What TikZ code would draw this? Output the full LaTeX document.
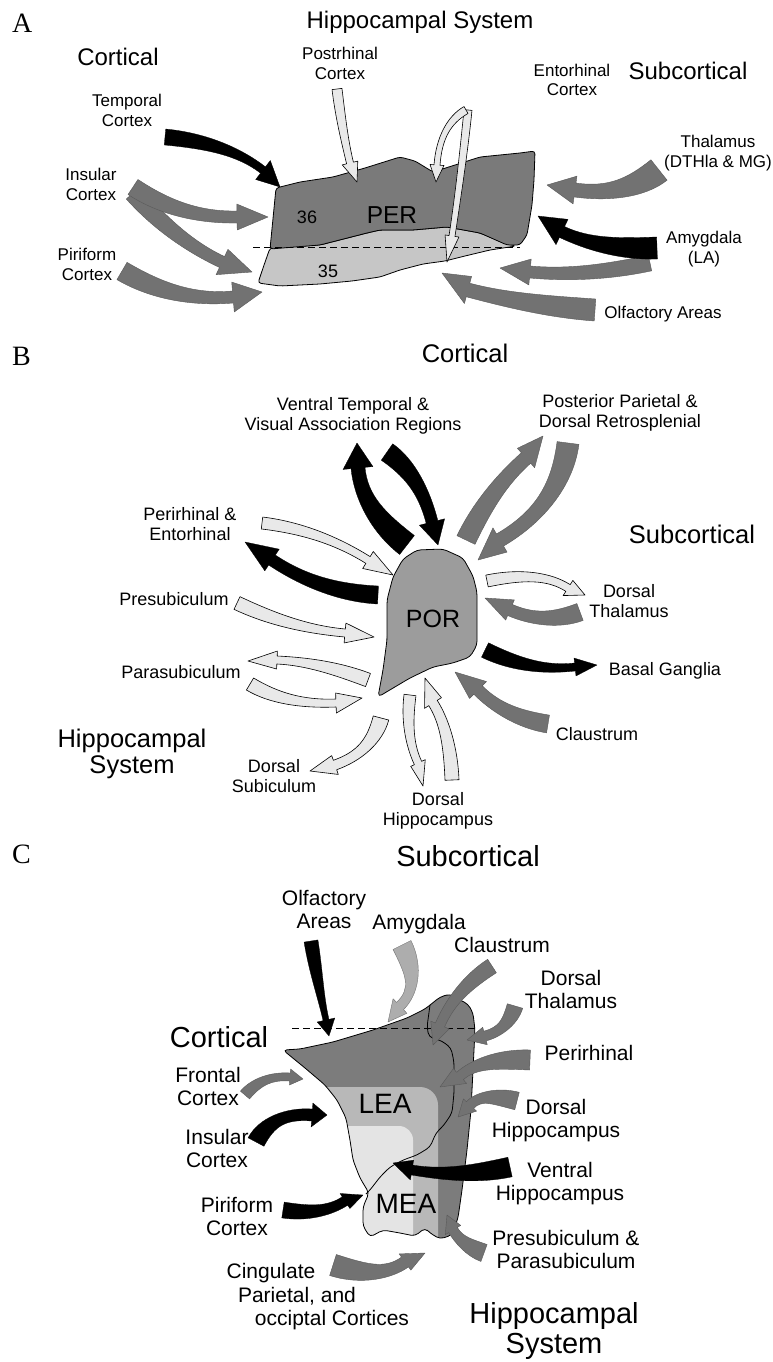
\documentclass[tikz,border=0pt]{standalone}
\usepackage{fontspec}
\setmainfont{Liberation Sans}
\newfontfamily\panelfont{Liberation Serif}
\usetikzlibrary{calc}
\definecolor{arrgray}{HTML}{727272}
\definecolor{lgtfill}{HTML}{E9E9E9}
\definecolor{perfill}{HTML}{7A7A7A}
\definecolor{areafill}{HTML}{C6C6C6}
\definecolor{porfill}{HTML}{9C9C9C}
\definecolor{leadark}{HTML}{7C7C7C}
\definecolor{leamid}{HTML}{B8B8B8}
\definecolor{lealight}{HTML}{E4E4E4}
\definecolor{amyfill}{HTML}{ADADAD}
% tapered curved block arrow: #1 style, #2 tail, #3 control, #4 neck, #5 tail half-width, #6 neck half-width, #7 head half-width, #8 tip
\newcommand\tarr[8]{%
  \coordinate (tA) at #2;
  \coordinate (tC) at #3;
  \coordinate (tN) at #4;
  \coordinate (tT) at #8;
  \coordinate (tAl) at ($(tA)!#5pt!90:(tC)$);
  \coordinate (tAr) at ($(tA)!#5pt!-90:(tC)$);
  \coordinate (tNl) at ($(tN)!#6pt!-90:(tC)$);
  \coordinate (tNr) at ($(tN)!#6pt!90:(tC)$);
  \coordinate (tHl) at ($(tN)!#7pt!-90:(tC)$);
  \coordinate (tHr) at ($(tN)!#7pt!90:(tC)$);
  \path[#1] (tAl) .. controls ($(tAl)+0.667*(tC)-0.667*(tA)$) and ($(tNl)+0.667*(tC)-0.667*(tN)$) .. (tNl)
     -- (tHl) -- (tT) -- (tHr) -- (tNr)
     .. controls ($(tNr)+0.667*(tC)-0.667*(tN)$) and ($(tAr)+0.667*(tC)-0.667*(tA)$) .. (tAr) -- cycle;
}
\begin{document}
\begin{tikzpicture}[x=1pt,y=-1pt,
  blk/.style={fill=black, draw=black, line width=0.3pt, line join=round},
  gry/.style={fill=arrgray, draw=black!65, line width=0.4pt, line join=round},
  lgt/.style={fill=lgtfill, draw=black, line width=0.6pt, line join=round},
  amy/.style={fill=amyfill, draw=black!55, line width=0.4pt, line join=round},
  region/.style={draw=black, line width=0.8pt, line join=round},
  divline/.style={draw=black, dash pattern=on 7pt off 4pt, line width=0.8pt},
  txt/.style={align=center, anchor=base, inner sep=0pt},
  labA/.style={txt, font=\fontsize{17}{20}\selectfont},
  hdA/.style={txt, font=\fontsize{24}{26}\selectfont},
  labB/.style={txt, font=\fontsize{18}{20}\selectfont},
  hdB/.style={txt, font=\fontsize{25.5}{26}\selectfont},
  labC/.style={txt, font=\fontsize{21}{23}\selectfont},
  hdC/.style={txt, font=\fontsize{29}{30}\selectfont},
  panel/.style={anchor=base west, inner sep=0pt, font=\panelfont\fontsize{28}{30}\selectfont}
]
\useasboundingbox (0,0) rectangle (772,1362);
\fill[white] (0,0) rectangle (772,1362);

% ================= Panel A =================
\path[region, fill=areafill, rounded corners=3pt] (270,248) -- (263,268) -- (258,283) -- (280,286) -- (320,284) -- (352,281) -- (380,277) -- (400,270) -- (423,264) -- (445,261) -- (465,256) -- (490,250) -- (516,246) -- (507,244) -- (480,233) -- (447,227) -- (413,230) -- (380,230) -- (367,233) -- (320,245) -- cycle;
\path[region, fill=perfill, rounded corners=3pt] (276,188) -- (300,182) -- (333,177) -- (365,168) -- (400,157) -- (415,161) -- (433,172) -- (455,165) -- (480,157) -- (520,153) -- (535,151) -- (534,180) -- (532,205) -- (527,235) -- (520,245) -- (507,245) -- (480,233) -- (447,227) -- (413,230) -- (380,230) -- (367,233) -- (320,245) -- (270,249) -- cycle;
\coordinate (dA1) at (253,247);
\coordinate (dA2) at (520,247);
\draw[divline] (dA1) -- (dA2);

\tarr{blk}{(165,137)}{(228,143)}{(263,170)}{8}{4}{12}{(280,187)}
\tarr{lgt}{(337,89)}{(342,130)}{(350,163)}{5}{3.5}{8}{(357,182)}
\tarr{lgt}{(468,110)}{(462,170)}{(452,236)}{4}{3}{7}{(447,262)}
\tarr{lgt}{(466,110)}{(440,125)}{(437,165)}{4}{3}{7}{(436,182)}
\tarr{gry}{(133,193)}{(175,240)}{(222,262)}{9}{6}{14}{(252,272)}
\tarr{gry}{(133,187)}{(180,218)}{(237,217)}{9}{6}{13}{(268,217)}
\tarr{gry}{(122,271)}{(175,302)}{(233,297)}{10}{6}{15}{(262,292)}
\tarr{gry}{(659,170)}{(625,197)}{(575,190)}{13}{7}{14}{(547,185)}
\tarr{gry}{(650,263)}{(585,277)}{(530,272)}{8}{6}{13}{(500,268)}
\tarr{blk}{(657,248)}{(600,250)}{(562,232)}{11}{6}{14}{(538,216)}
\tarr{gry}{(595,310)}{(525,305)}{(468,290)}{11}{7}{14}{(442,273)}

\node[panel] (pA) at (12,33) {A};
\node[hdA] (hippA) at (420,29) {Hippocampal System};
\node[hdA] (cortA) at (118,66) {Cortical};
\node[hdA] (subA) at (688,80) {Subcortical};
\node[labA] (postA) at (340,80) {Postrhinal\\Cortex};
\node[labA] (entA) at (572,96) {Entorhinal\\Cortex};
\node[labA] (tempA) at (127,127) {Temporal\\Cortex};
\node[labA] (insA) at (91,200) {Insular\\Cortex};
\node[labA] (pirA) at (87,280) {Piriform\\Cortex};
\node[labA] (thalA) at (718,167) {Thalamus\\(DTHla \& MG)};
\node[labA] (amyA) at (704,263) {Amygdala\\(LA)};
\node[labA] (olfA) at (663,318) {Olfactory Areas};
\node[txt, font=\fontsize{18}{20}\selectfont] (n36) at (307,223) {36};
\node[txt, font=\fontsize{18}{20}\selectfont] (n35) at (328,277) {35};
\node[txt, font=\fontsize{24.5}{26}\selectfont] (per) at (392,223) {PER};

% ================= Panel B =================
\path[region, fill=porfill, rounded corners=4pt] (393,577) -- (403,559) -- (417,550) -- (443,549) -- (463,558) -- (473,576) -- (477,592) -- (477,645) -- (470,657) -- (453,663) -- (433,667) -- (410,678) -- (378,697) -- (383,670) -- (387,640) -- (387,600) -- cycle;

\tarr{blk}{(407,545)}{(362,510)}{(358,468)}{12}{7}{15}{(357,443)}
\tarr{blk}{(387,452)}{(420,475)}{(432,522)}{10}{6}{13}{(438,545)}
\tarr{gry}{(466,540)}{(490,490)}{(526,458)}{10}{7}{13}{(543,436)}
\tarr{gry}{(568,443)}{(560,505)}{(500,540)}{11}{7}{14}{(478,560)}
\tarr{lgt}{(262,523)}{(320,530)}{(368,560)}{6}{4}{10}{(393,575)}
\tarr{blk}{(378,595)}{(320,592)}{(272,560)}{9}{6}{13}{(245,542)}
\tarr{lgt}{(237,603)}{(290,628)}{(345,633)}{7}{4}{10}{(374,637)}
\tarr{lgt}{(368,680)}{(320,662)}{(277,660)}{7}{4}{9}{(248,661)}
\tarr{lgt}{(250,684)}{(285,705)}{(336,703)}{7}{4}{10}{(362,698)}
\tarr{lgt}{(381,718)}{(372,752)}{(335,765)}{8}{5}{10}{(310,771)}
\tarr{lgt}{(410,695)}{(405,735)}{(418,763)}{6}{4}{8}{(423,786)}
\tarr{lgt}{(452,780)}{(450,730)}{(433,703)}{7}{5}{10}{(425,678)}
\tarr{lgt}{(487,581)}{(540,570)}{(568,588)}{6}{4}{9}{(585,595)}
\tarr{gry}{(580,612)}{(545,625)}{(510,610)}{9}{6}{11}{(485,598)}
\tarr{blk}{(485,650)}{(530,672)}{(575,667)}{8}{4}{9}{(597,665)}
\tarr{gry}{(548,724)}{(505,717)}{(478,690)}{9}{6}{12}{(455,672)}

\node[panel] (pB) at (12,365) {B};
\node[hdB] (cortB) at (465,362) {Cortical};
\node[labB] (ventB) at (353,430) {Ventral Temporal \&\\Visual Association Regions};
\node[labB] (postB) at (620,427) {Posterior Parietal \&\\Dorsal Retrosplenial};
\node[hdB] (subB) at (692,543) {Subcortical};
\node[labB] (periB) at (190,540) {Perirhinal \&\\Entorhinal};
\node[labB] (presB) at (174,605) {Presubiculum};
\node[labB] (paraB) at (181,678) {Parasubiculum};
\node[hdB] (hippB) at (132,773) {Hippocampal\\System};
\node[labB] (dsubB) at (274,792) {Dorsal\\Subiculum};
\node[labB] (dthB) at (629,617) {Dorsal\\Thalamus};
\node[labB] (basB) at (665,675) {Basal Ganglia};
\node[labB] (claB) at (597,740) {Claustrum};
\node[labB] (dhiB) at (438,825) {Dorsal\\Hippocampus};
\node[txt, font=\fontsize{25}{26}\selectfont] (por) at (433,627) {POR};

% ================= Panel C =================
\begin{scope}
\clip[rounded corners=4pt] (283,1050) -- (300,1049) -- (333,1042) -- (373,1030) -- (407,1018) -- (425,1009) -- (440,997) -- (450,994) -- (460,1000) -- (468,1004) -- (473,1013) -- (475,1030) -- (473,1070) -- (471,1110) -- (467,1150) -- (462,1190) -- (458,1218) -- (452,1235) -- (440,1239) -- (430,1233) -- (425,1228) -- (415,1236) -- (400,1233) -- (383,1230) -- (370,1237) -- (363,1226) -- (363,1207) -- (369,1193) -- (360,1178) -- (353,1160) -- (350,1140) -- (346,1118) -- (337,1100) -- (325,1085) -- (305,1068) -- cycle;
\fill[leadark] (250,980) rectangle (500,1260);
\fill[leamid, rounded corners=18pt] (300,1087) rectangle (438,1300);
\fill[lealight, rounded corners=14pt] (300,1126) rectangle (413,1300);
\end{scope}
\draw[region, rounded corners=4pt] (283,1050) -- (300,1049) -- (333,1042) -- (373,1030) -- (407,1018) -- (425,1009) -- (440,997) -- (450,994) -- (460,1000) -- (468,1004) -- (473,1013) -- (475,1030) -- (473,1070) -- (471,1110) -- (467,1150) -- (462,1190) -- (458,1218) -- (452,1235) -- (440,1239) -- (430,1233) -- (425,1228) -- (415,1236) -- (400,1233) -- (383,1230) -- (370,1237) -- (363,1226) -- (363,1207) -- (369,1193) -- (360,1178) -- (353,1160) -- (350,1140) -- (346,1118) -- (337,1100) -- (325,1085) -- (305,1068) -- cycle;
\draw[region, rounded corners=4pt] (430,1005) -- (427,1027) -- (429,1037) -- (442,1041) -- (451,1048) -- (454,1062) -- (454,1093) -- (452,1113) -- (444,1125) -- (436,1133) -- (430,1147) -- (417,1155) -- (403,1160) -- (390,1167) -- (380,1177) -- (370,1190) -- (366,1194);
\coordinate (dC1) at (292,1028);
\coordinate (dC2) at (475,1028);
\draw[divline] (dC1) -- (dC2);

\tarr{blk}{(311,941)}{(318,985)}{(326,1020)}{7}{3}{9}{(329,1036)}
\tarr{amy}{(402,945)}{(422,985)}{(400,1006)}{10}{5}{10}{(388,1022)}
\tarr{gry}{(492,966)}{(455,990)}{(440,1025)}{8}{5}{10}{(433,1045)}
\tarr{gry}{(515,1006)}{(508,1030)}{(485,1036)}{8}{5}{9}{(467,1040)}
\tarr{gry}{(530,1060)}{(480,1058)}{(460,1076)}{10}{5}{10}{(440,1087)}
\tarr{gry}{(517,1101)}{(482,1092)}{(470,1105)}{9}{5}{9}{(458,1117)}
\tarr{blk}{(510,1167)}{(460,1178)}{(412,1170)}{10}{5}{10}{(393,1163)}
\tarr{gry}{(484,1253)}{(462,1245)}{(453,1230)}{9}{5}{9}{(447,1215)}
\tarr{gry}{(333,1265)}{(380,1280)}{(405,1262)}{11}{6}{10}{(425,1253)}
\tarr{blk}{(283,1210)}{(322,1216)}{(345,1201)}{8}{5}{9}{(363,1195)}
\tarr{blk}{(256,1142)}{(272,1112)}{(312,1115)}{9}{6}{12}{(327,1115)}
\tarr{gry}{(245,1095)}{(262,1075)}{(290,1077)}{6}{4}{8}{(303,1079)}

\node[panel] (pC) at (12,863) {C};
\node[hdC] (subC) at (468,866) {Subcortical};
\node[labC] (olfC) at (324,928) {Olfactory\\Areas};
\node[labC] (amyC) at (419,929) {Amygdala};
\node[labC] (claC) at (502,952) {Claustrum};
\node[labC] (dthC) at (571,1008) {Dorsal\\Thalamus};
\node[labC] (periC) at (589,1060) {Perirhinal};
\node[labC] (dhiC) at (556,1137) {Dorsal\\Hippocampus};
\node[labC] (vhiC) at (560,1200) {Ventral\\Hippocampus};
\node[labC] (presC) at (566,1268) {Presubiculum \&\\Parasubiculum};
\node[hdC] (hippC) at (554,1353) {Hippocampal\\System};
\node[hdC] (cortC) at (219,1047) {Cortical};
\node[labC] (froC) at (208,1105) {Frontal\\Cortex};
\node[labC] (insC) at (217,1167) {Insular\\Cortex};
\node[labC] (pirC) at (237,1235) {Piriform\\Cortex};
\node[labC] (cing1) at (271,1278) {Cingulate};
\node[labC] (cing2) at (297,1302) {Parietal, and};
\node[labC] (cing3) at (332,1325) {occiptal Cortices};
\node[txt, font=\fontsize{28}{30}\selectfont] (lea) at (385,1113) {LEA};
\node[txt, font=\fontsize{28}{30}\selectfont] (mea) at (406,1213) {MEA};
\end{tikzpicture}
\end{document}
